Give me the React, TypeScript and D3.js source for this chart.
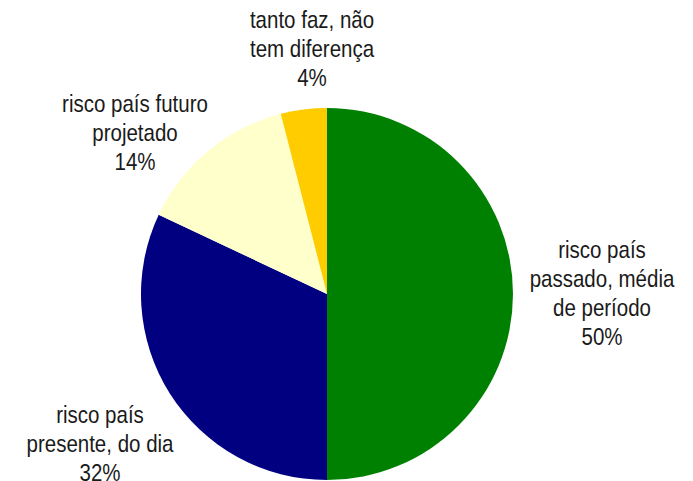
import React from "react";
import * as d3 from "d3";

const categories = [
  "risco país passado, média de período",
  "risco país presente, do dia",
  "risco país futuro projetado",
  "tanto faz, não tem diferença",
];
const values = [50, 32, 14, 4];
const labelLines = [
  ["risco país", "passado, média", "de período"],
  ["risco país", "presente, do dia"],
  ["risco país futuro", "projetado"],
  ["tanto faz, não", "tem diferença"],
];
const colors = ["#008000", "#000080", "#FFFFCC", "#FFCC00"];

const W = 693;
const H = 481;
const CX = 327;
const CY = 294;
const R = 186;
const LINE = 29;
// centre x and first-line baseline of each label block
const labelAnchors: [number, number][] = [
  [602, 258],
  [100, 423],
  [135, 112],
  [312, 28],
];

export default function App() {
  const pie = d3
    .pie<number>()
    .sort(null)
    .value((d) => d);
  const arcs = pie(values);
  const arc = d3.arc<d3.PieArcDatum<number>>().innerRadius(0).outerRadius(R);
  const total = d3.sum(values);

  return (
    <div style={{ position: "fixed", left: 0, top: 0 }}>
      <svg width={W} height={H} style={{ display: "block" }}>
        <rect width={W} height={H} fill="#fff" />
        <g transform={`translate(${CX},${CY})`}>
          {arcs.map((a, i) => (
            <path key={categories[i]} d={arc(a) || ""} fill={colors[i]} />
          ))}
        </g>
        {arcs.map((a, i) => {
          const [x, y] = labelAnchors[i];
          const lines = [
            ...labelLines[i],
            `${Math.round((a.data / total) * 100)}%`,
          ];
          return (
            <g key={`lbl-${i}`} transform={`translate(${x},${y})`}>
              {lines.map((t, k) => (
                <text
                  key={k}
                  transform={`translate(0,${k * LINE}) scale(1,1.15)`}
                  textAnchor="middle"
                  fontFamily="Liberation Sans, Arial, sans-serif"
                  fontSize={20.5}
                  fill="#1a1a1a"
                >
                  {t}
                </text>
              ))}
            </g>
          );
        })}
      </svg>
    </div>
  );
}
